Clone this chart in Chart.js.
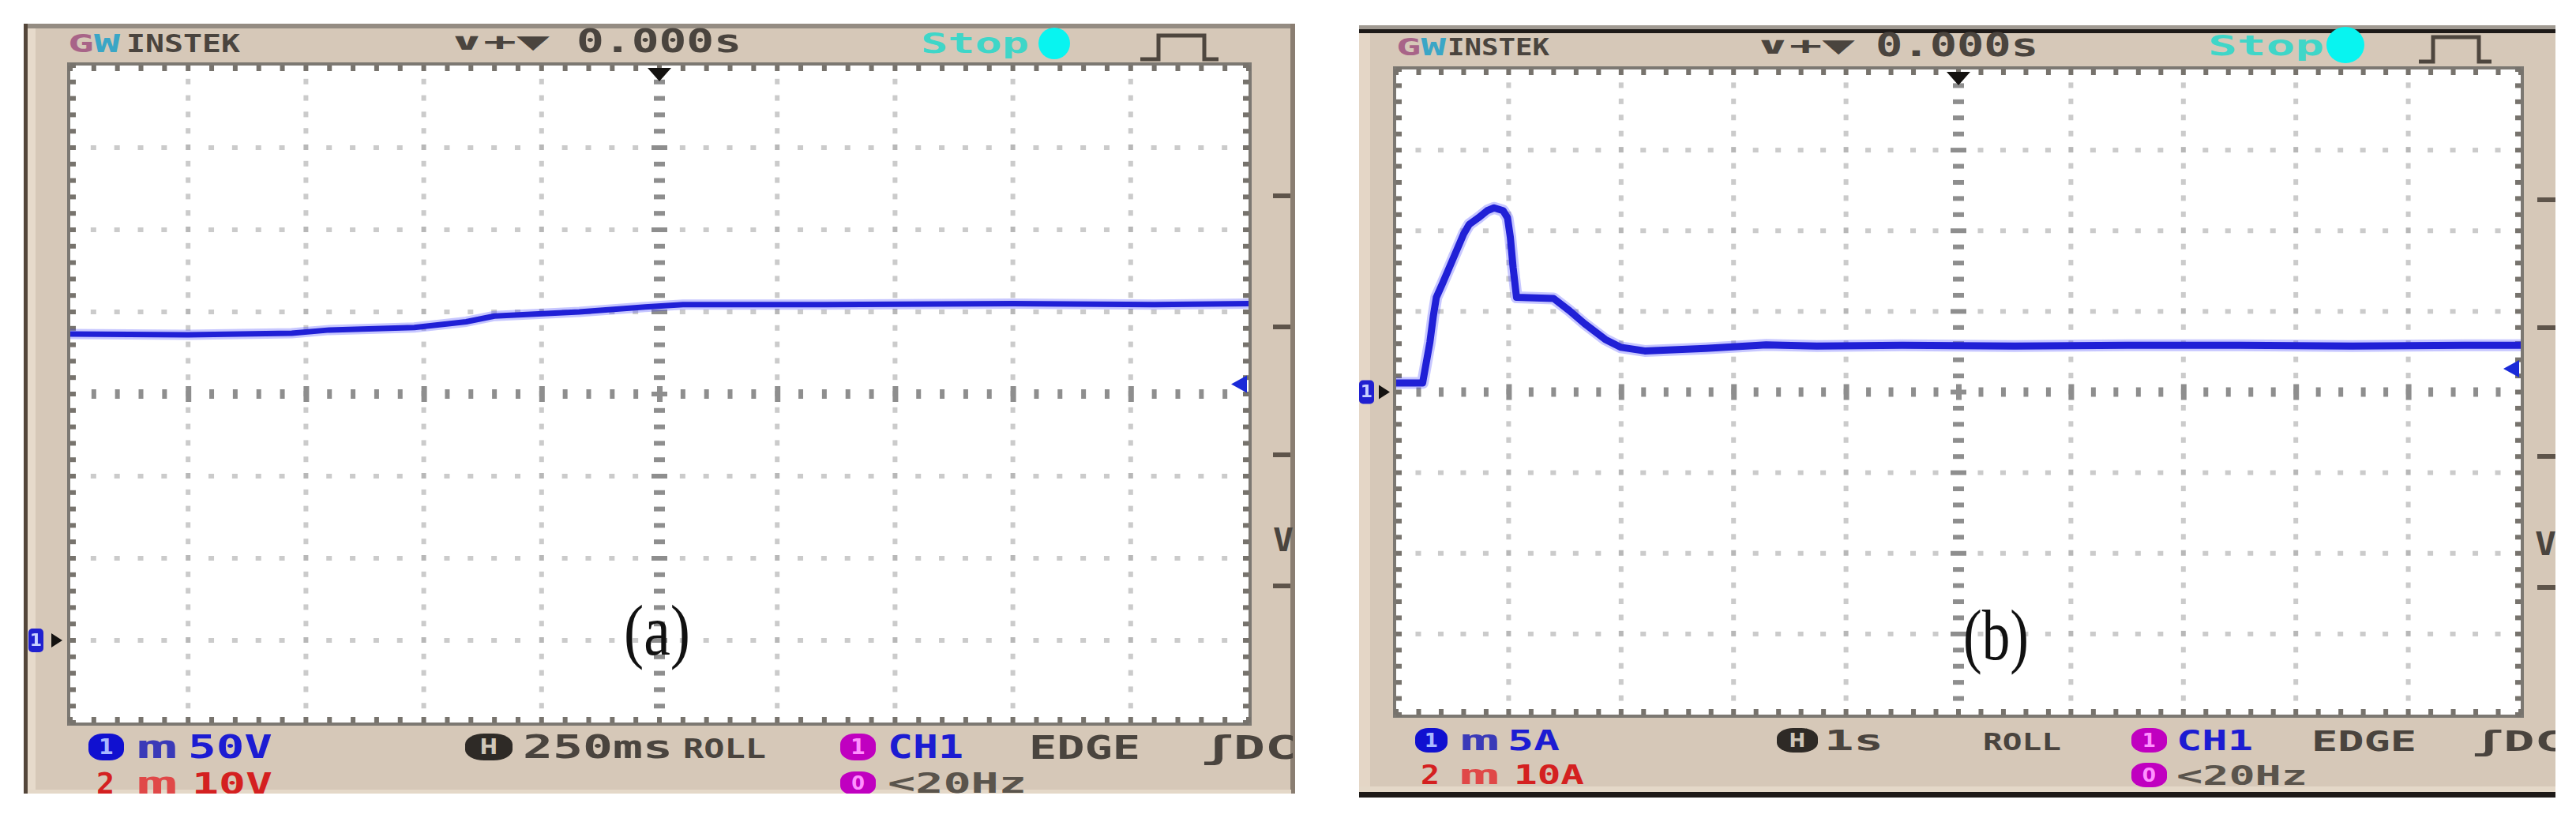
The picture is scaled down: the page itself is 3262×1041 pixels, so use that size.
<!DOCTYPE html>
<html>
<head>
<meta charset="utf-8">
<title>Scope captures (a) (b)</title>
<script src="https://cdn.jsdelivr.net/npm/chart.js@4.4.1/dist/chart.umd.min.js"></script>
<style>
  html, body { margin: 0; padding: 0; background: #fff; }
  body { width: 3262px; height: 1041px; position: relative; overflow: hidden; }
  .frame { position: absolute; background: #d6c8b8; overflow: hidden; }
  .bar { position: absolute; }
  .t { position: absolute; white-space: nowrap; font-family: 'DejaVu Sans Mono', monospace;
       font-weight: bold; transform-origin: 0 50%; }
  .badge { position: absolute; border-radius: 40%; font-family: 'DejaVu Sans', sans-serif;
           font-weight: bold; text-align: center; }
  .cap { position: absolute; font-family: 'Liberation Serif', serif; color: #111;
         white-space: nowrap; transform-origin: 0 50%; z-index: 5; }
  canvas { position: absolute; z-index: 2; }
</style>
</head>
<body>
<div id="frameA" class="frame" style="left:30px;top:30px;width:1610px;height:975px"></div>
<div id="frameB" class="frame" style="left:1721px;top:32px;width:1515px;height:978px"></div>
<canvas id="scopeA" width="1564" height="856" style="left:29px;top:71px"></canvas>
<canvas id="scopeB" width="1496" height="841" style="left:1708px;top:76px"></canvas>

<script>

// (a) voltage, 250 ms/div, 50 V/div
const timeA = [0, 0.25, 0.47, 0.55, 0.73, 0.84, 0.90, 1.08, 1.22, 1.30, 1.60, 2.00, 2.30, 2.50];
const voltA = [186.5, 186, 187, 189, 190.5, 194, 197.5, 200, 203, 204.5, 204.5, 205, 204.5, 205];
const xTicksA = [0, 0.25, 0.5, 0.75, 1, 1.25, 1.5, 1.75, 2, 2.25, 2.5];
const yTicksA = [-50, 0, 50, 100, 150, 200, 250, 300, 350];
const trigA = 156;

// (b) current, 1 s/div, 5 A/div
const timeB = [0, 0.235, 0.30, 0.33, 0.357, 0.41, 0.49, 0.60, 0.65, 0.73, 0.81, 0.87, 0.95, 0.99,
               1.015, 1.04, 1.07, 1.40, 1.54, 1.675, 1.86, 2.0, 2.21, 2.75, 3.29, 3.74, 4.5,
               5.5, 6.5, 7.5, 8.5, 9.5, 10];
const currB = [0.56, 0.56, 3.1, 4.7, 5.87, 6.7, 8.0, 9.8, 10.4, 10.8, 11.25, 11.42, 11.25, 10.8,
               9.6, 7.7, 5.87, 5.8, 5.05, 4.24, 3.26, 2.77, 2.55, 2.7, 2.93, 2.85, 2.9,
               2.85, 2.9, 2.9, 2.85, 2.9, 2.9];
const xTicksB = [0, 1, 2, 3, 4, 5, 6, 7, 8, 9, 10];
const yTicksB = [-20, -15, -10, -5, 0, 5, 10, 15, 20];
const trigB = 1.45;

// ─── Screen furniture ────────────────────────────────────────────────────────

function el(parent, cls, css, html) {
  const d = document.createElement('div');
  if (cls) d.className = cls;
  d.style.cssText = css;
  if (html != null) d.innerHTML = html;
  parent.appendChild(d);
  return d;
}

// text fitted into [x, x+w], centred on yc (page coords)
function label(frame, ox, oy, x, yc, w, size, html, color) {
  const d = el(frame, 't', `left:${x - ox}px;top:${yc - oy - size / 2}px;font-size:${size}px;` +
    `line-height:${size}px;color:${color}`, html);
  const nat = d.getBoundingClientRect().width;
  d.style.transform = `scaleX(${w / nat})`;
  return d;
}

function badge(frame, ox, oy, x, y, w, h, bg, fg, txt) {
  el(frame, 'badge', `left:${x - ox}px;top:${y - oy}px;width:${w}px;height:${h}px;background:${bg};` +
    `color:${fg};font-size:${h * 0.8}px;line-height:${h}px`, txt);
}

function pulse(frame, ox, oy, pts) {
  const svgNS = 'http://www.w3.org/2000/svg';
  const svg = document.createElementNS(svgNS, 'svg');
  svg.setAttribute('width', 200); svg.setAttribute('height', 60);
  const x0 = pts[0][0] - 10, y0 = 30;
  svg.style.cssText = `position:absolute;left:${x0 - ox}px;top:${y0 - oy}px`;
  const pl = document.createElementNS(svgNS, 'polyline');
  pl.setAttribute('points', pts.map(p => `${p[0] - x0},${p[1] - y0}`).join(' '));
  pl.setAttribute('fill', 'none'); pl.setAttribute('stroke', '#4e463e');
  pl.setAttribute('stroke-width', 5);
  svg.appendChild(pl);
  frame.appendChild(svg);
}

const DARK = '#4a443e', BLUE = '#1c1cd2', RED = '#d42020';
const GW = '<span style="color:#a86488">G</span><span style="color:#3aa6c6">W</span>';

// frame (a)
(() => {
  const f = document.getElementById('frameA'), ox = 30, oy = 30;
  el(f, 'bar', 'left:0;top:0;width:1610px;height:6px;background:#948c82');
  el(f, 'bar', 'left:0;top:0;width:5px;height:975px;background:#54463a');
  el(f, 'bar', 'left:5px;top:6px;width:10px;height:969px;background:#e6dacb');
  el(f, 'bar', 'left:1604px;top:0;width:6px;height:975px;background:#8a7e72');
  el(f, 'bar', 'left:5px;top:970px;width:1600px;height:5px;background:#e4d8c8');
  label(f, ox, oy, 86, 55, 66, 32, GW, DARK);
  label(f, ox, oy, 160, 55, 144, 32, 'INSTEK', DARK);
  label(f, ox, oy, 570, 53, 126, 30, '∨+▼', DARK);
  label(f, ox, oy, 730, 52, 209, 40, '0.000s', DARK);
  label(f, ox, oy, 1166, 55, 137, 36, 'Stop', '#3fd6c8');
  el(f, 'bar', `left:${1315 - ox}px;top:${35 - oy}px;width:40px;height:40px;border-radius:50%;background:#08f4f0`);
  pulse(f, ox, oy, [[1444, 75], [1467, 75], [1467, 45], [1525, 45], [1525, 75], [1543, 75]]);
  [245, 411, 573, 739].forEach(y => el(f, 'bar', `left:${1612 - ox}px;top:${y - oy}px;width:22px;height:6px;background:#5e544a`));
  label(f, ox, oy, 1612, 684, 26, 40, 'V', DARK);
  // bottom bar
  badge(f, ox, oy, 112, 929, 45, 34, '#1010d0', '#a8b8ff', '1');
  label(f, ox, oy, 173, 946, 52, 40, 'm', '#3a3ab8');
  label(f, ox, oy, 238, 946, 107, 40, '50V', BLUE);
  label(f, ox, oy, 122, 992, 23, 38, '2', RED);
  label(f, ox, oy, 173, 992, 52, 38, 'm', '#e04848');
  label(f, ox, oy, 243, 992, 102, 38, '10V', RED);
  badge(f, ox, oy, 589, 929, 60, 34, '#2e2a26', '#cfc6b8', 'H');
  label(f, ox, oy, 662, 946, 190, 40, '250ms', DARK);
  label(f, ox, oy, 865, 948, 105, 34, 'ROLL', DARK);
  badge(f, ox, oy, 1064, 929, 45, 34, '#c000c0', '#ff90ff', '1');
  label(f, ox, oy, 1124, 946, 96, 40, 'CH1', BLUE);
  label(f, ox, oy, 1303, 947, 141, 40, 'EDGE', DARK);
  label(f, ox, oy, 1522, 947, 120, 40, 'ʃDC', DARK);
  badge(f, ox, oy, 1064, 977, 45, 30, '#c000c0', '#ff90ff', '0');
  label(f, ox, oy, 1124, 992, 176, 36, '&lt;20Hz', '#5a544c');
})();

// frame (b)
(() => {
  const f = document.getElementById('frameB'), ox = 1721, oy = 32;
  el(f, 'bar', 'left:0;top:0;width:1515px;height:5px;background:#a09a92');
  el(f, 'bar', 'left:0;top:5px;width:1515px;height:5px;background:#1e1a18');
  el(f, 'bar', 'left:0;top:10px;width:14px;height:961px;background:#e4d6c6');
  el(f, 'bar', 'left:0;top:964px;width:1515px;height:7px;background:#e4d8c8');
  el(f, 'bar', 'left:0;top:971px;width:1515px;height:7px;background:#1e1a18');
  label(f, ox, oy, 1768, 60, 63, 30, GW, DARK);
  label(f, ox, oy, 1833, 60, 129, 30, 'INSTEK', DARK);
  label(f, ox, oy, 2224, 58, 125, 30, '∨+▼', DARK);
  label(f, ox, oy, 2375, 57, 206, 40, '0.000s', DARK);
  label(f, ox, oy, 2796, 58, 147, 36, 'Stop', '#3fd6c8');
  el(f, 'bar', `left:${2946 - ox}px;top:${34 - oy}px;width:48px;height:46px;border-radius:50%;background:#08f4f0`);
  pulse(f, ox, oy, [[3063, 78], [3081, 78], [3081, 47], [3139, 47], [3139, 78], [3155, 78]]);
  [250, 412, 575, 741].forEach(y => el(f, 'bar', `left:${3213 - ox}px;top:${y - oy}px;width:23px;height:6px;background:#5e544a`));
  label(f, ox, oy, 3210, 689, 27, 40, 'V', DARK);
  // bottom bar
  badge(f, ox, oy, 1792, 922, 41, 31, '#1010d0', '#a8b8ff', '1');
  label(f, ox, oy, 1849, 938, 50, 36, 'm', '#3a3ab8');
  label(f, ox, oy, 1909, 938, 66, 36, '5A', BLUE);
  label(f, ox, oy, 1799, 981, 24, 34, '2', RED);
  label(f, ox, oy, 1848, 981, 51, 34, 'm', '#e04848');
  label(f, ox, oy, 1917, 981, 89, 34, '10A', RED);
  badge(f, ox, oy, 2250, 922, 52, 31, '#2e2a26', '#cfc6b8', 'H');
  label(f, ox, oy, 2310, 938, 75, 36, '1s', DARK);
  label(f, ox, oy, 2511, 940, 99, 30, 'ROLL', DARK);
  badge(f, ox, oy, 2699, 922, 45, 31, '#c000c0', '#ff90ff', '1');
  label(f, ox, oy, 2756, 938, 97, 36, 'CH1', BLUE);
  label(f, ox, oy, 2927, 939, 133, 36, 'EDGE', DARK);
  label(f, ox, oy, 3131, 939, 118, 36, 'ʃDC', DARK);
  badge(f, ox, oy, 2699, 966, 45, 31, '#c000c0', '#ff90ff', '0');
  label(f, ox, oy, 2756, 982, 166, 34, '&lt;20Hz', '#5a544c');
})();

// panel captions
function caption(x, yc, w, size, txt) {
  const d = el(document.body, 'cap', `left:${x}px;top:${yc - size * 0.6}px;font-size:${size}px;line-height:${size * 1.2}px`, txt);
  d.style.transform = `scaleX(${w / d.getBoundingClientRect().width})`;
}
caption(790, 798, 84, 92, '(a)');
caption(2486, 804, 83, 92, '(b)');

// ─── Graticule plugin ────────────────────────────────────────────────────────

const scopeGrid = {
  id: 'scopeGrid',
  beforeDatasetsDraw(chart, args, o) {
    const { ctx, chartArea: a, scales: { x, y } } = chart;
    const xt = o.xTicks, yt = o.yTicks;
    const cx = (xt.length - 1) / 2, cy = (yt.length - 1) / 2;
    const subX = [], subY = [];
    for (let i = 0; i < xt.length - 1; i++)
      for (let k = 0; k < 5; k++) subX.push(x.getPixelForValue(xt[i] + (xt[i + 1] - xt[i]) * k / 5));
    subX.push(x.getPixelForValue(xt[xt.length - 1]));
    for (let j = 0; j < yt.length - 1; j++)
      for (let k = 0; k < 5; k++) subY.push(y.getPixelForValue(yt[j] + (yt[j + 1] - yt[j]) * k / 5));
    subY.push(y.getPixelForValue(yt[yt.length - 1]));

    ctx.save();
    ctx.fillStyle = '#ffffff';
    ctx.fillRect(a.left, a.top, a.width, a.height);

    // vertical division lines
    xt.forEach((v, i) => {
      if (i === 0 || i === xt.length - 1) return;
      const px = x.getPixelForValue(v);
      subY.forEach((py, k) => {
        if (k === 0 || k === subY.length - 1) return;
        if (i === cx) {
          ctx.fillStyle = '#8e8e8e';
          if (k % 5 === 0) ctx.fillRect(px - 10, py - 3, 20, 6);
          else ctx.fillRect(px - 7, py - 3, 14, 6);
        } else {
          ctx.fillStyle = k % 5 === 0 ? '#b8b8b8' : '#cbcbcb';
          ctx.fillRect(px - 3, py - 4, 6, 7);
        }
      });
    });
    // horizontal division lines
    yt.forEach((v, j) => {
      if (j === 0 || j === yt.length - 1) return;
      const py = y.getPixelForValue(v);
      subX.forEach((px, k) => {
        if (k === 0 || k === subX.length - 1) return;
        if (j === cy) {
          ctx.fillStyle = '#8e8e8e';
          if (k % 5 === 0) ctx.fillRect(px - 3, py - 10, 7, 20);
          else ctx.fillRect(px - 3, py - 6, 6, 12);
        } else if (k % 5 !== 0) {
          ctx.fillStyle = '#cbcbcb';
          ctx.fillRect(px - 4, py - 3, 7, 6);
        }
      });
    });

    // border with sub-division ticks
    ctx.fillStyle = '#7c7872';
    ctx.fillRect(a.left - 4, a.top - 4, a.width + 8, 4);
    ctx.fillRect(a.left - 4, a.bottom, a.width + 8, 4);
    ctx.fillRect(a.left - 4, a.top - 4, 4, a.height + 8);
    ctx.fillRect(a.right, a.top - 4, 4, a.height + 8);
    ctx.fillStyle = '#77736d';
    subX.forEach(px => { ctx.fillRect(px - 3, a.top, 6, 7); ctx.fillRect(px - 3, a.bottom - 7, 6, 7); });
    subY.forEach(py => { ctx.fillRect(a.left, py - 3, 7, 6); ctx.fillRect(a.right - 7, py - 3, 7, 6); });
    ctx.restore();
  },
  afterDatasetsDraw(chart, args, o) {
    const { ctx, chartArea: a, scales: { x, y } } = chart;
    const xc = x.getPixelForValue(o.xTicks[(o.xTicks.length - 1) / 2]);
    ctx.save();
    // trigger position
    ctx.fillStyle = '#141210';
    ctx.beginPath();
    ctx.moveTo(xc - 15, a.top + 3); ctx.lineTo(xc + 15, a.top + 3); ctx.lineTo(xc, a.top + 20);
    ctx.closePath(); ctx.fill();
    // trigger level
    const yTr = y.getPixelForValue(o.trig);
    ctx.fillStyle = '#1a2ad8';
    ctx.beginPath();
    ctx.moveTo(a.right - 2, yTr - 11); ctx.lineTo(a.right - 2, yTr + 11); ctx.lineTo(a.right - 22, yTr);
    ctx.closePath(); ctx.fill();
    // channel 1 ground marker
    const y0 = y.getPixelForValue(0);
    ctx.fillStyle = '#2020d0';
    ctx.beginPath();
    ctx.roundRect(a.left - o.gx, y0 - 15, 19, 30, 5);
    ctx.fill();
    ctx.fillStyle = '#c8d0ff';
    ctx.font = 'bold 22px "DejaVu Sans"';
    ctx.textAlign = 'center'; ctx.textBaseline = 'middle';
    ctx.fillText('1', a.left - o.gx + 9.5, y0 + 1);
    ctx.fillStyle = '#141210';
    ctx.beginPath();
    ctx.moveTo(a.left - o.gm, y0 - 9); ctx.lineTo(a.left - o.gm + 14, y0); ctx.lineTo(a.left - o.gm, y0 + 9);
    ctx.closePath(); ctx.fill();
    ctx.restore();
  },
};

// ─── Charts ──────────────────────────────────────────────────────────────────

function scope(id, xs, ys, xTicks, yTicks, trig, lineW, gx, gm) {
  const pts = xs.map((t, i) => ({ x: t, y: ys[i] }));
  return new Chart(document.getElementById(id), {
    type: 'line',
    plugins: [scopeGrid],
    data: {
      datasets: [
        { data: pts, borderColor: 'rgba(70,70,255,0.30)', borderWidth: lineW + 6, pointRadius: 0 },
        { data: pts, borderColor: '#1010c4', borderWidth: lineW, pointRadius: 0 },
      ],
    },
    options: {
      responsive: false,
      animation: false,
      devicePixelRatio: 1,
      layout: { padding: { left: 60, top: 12, right: 12, bottom: 12 } },
      elements: { line: { tension: 0, borderJoinStyle: 'round', borderCapStyle: 'round' } },
      plugins: {
        legend: { display: false },
        tooltip: { enabled: false },
        scopeGrid: { xTicks, yTicks, trig, gx, gm },
      },
      scales: {
        x: { type: 'linear', min: xTicks[0], max: xTicks[xTicks.length - 1], display: false },
        y: { type: 'linear', min: yTicks[0], max: yTicks[yTicks.length - 1], display: false },
      },
    },
  });
}

scope('scopeA', timeA, voltA, xTicksA, yTicksA, trigA, 7, 53, 24);
scope('scopeB', timeB, currB, xTicksB, yTicksB, trigB, 9, 47, 22);
</script>
</body>
</html>
